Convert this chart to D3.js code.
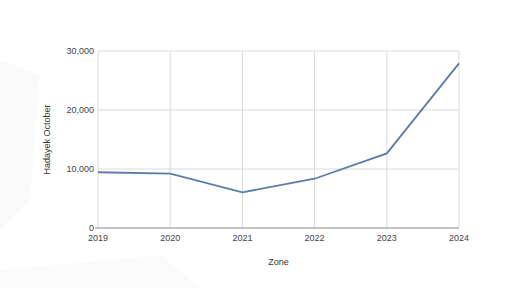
<!DOCTYPE html>
<html>
<head>
<meta charset="utf-8">
<script src="https://cdn.jsdelivr.net/npm/d3@7"></script>
<style>
  body { margin: 0; background: #fff; }
  svg { display: block; font-family: "Liberation Sans", Arial, sans-serif; }
</style>
</head>
<body>
<div id="chart"></div>
<script>
const years = [2019, 2020, 2021, 2022, 2023, 2024];
const values = [9450, 9200, 6050, 8350, 12650, 27900];
const yTicks = [0, 10000, 20000, 30000];

const W = 512, H = 288;
const margin = {top: 51, right: 53, bottom: 60, left: 98};
const width = W - margin.left - margin.right,
      height = H - margin.top - margin.bottom;

const svg = d3.select("#chart").append("svg")
    .attr("width", W).attr("height", H);

// faint background shapes
svg.append("path")
    .attr("d", "M0,60 L40,75 L30,200 L0,230 Z")
    .attr("fill", "#fafafa");
svg.append("path")
    .attr("d", "M0,270 L160,255 L200,288 L0,288 Z")
    .attr("fill", "#fbfbfb");

const g = svg.append("g").attr("transform", `translate(${margin.left},${margin.top})`);

const x = d3.scalePoint().domain(years).range([0, width]);
const y = d3.scaleLinear().domain([0, 30000]).range([height, 0]);

// gridlines
g.selectAll(".hgrid").data(yTicks.filter(d => d > 0)).enter().append("line")
    .attr("x1", 0).attr("x2", width)
    .attr("y1", d => y(d)).attr("y2", d => y(d))
    .attr("stroke", "#dadada").attr("stroke-width", 1);
g.selectAll(".vgrid").data(years).enter().append("line")
    .attr("x1", d => x(d)).attr("x2", d => x(d))
    .attr("y1", 0).attr("y2", height)
    .attr("stroke", "#dadada").attr("stroke-width", 1);

// baseline
g.append("line")
    .attr("x1", -3).attr("x2", width)
    .attr("y1", height).attr("y2", height)
    .attr("stroke", "#888").attr("stroke-width", 1);

// y labels
g.selectAll(".ylab").data(yTicks).enter().append("text")
    .attr("x", -4).attr("y", d => y(d))
    .attr("dy", "0.35em").attr("text-anchor", "end")
    .style("font-size", "9px").attr("fill", "#444")
    .text(d => d3.format(",")(d));

// x labels
g.selectAll(".xlab").data(years).enter().append("text")
    .attr("x", d => x(d)).attr("y", height + 13)
    .attr("text-anchor", "middle")
    .style("font-size", "9px").attr("fill", "#444")
    .text(d => d);

// line
const line = d3.line().x((d, i) => x(years[i])).y(d => y(d));
g.append("path").datum(values)
    .attr("d", line)
    .attr("fill", "none")
    .attr("stroke", "#5b7ca8")
    .attr("stroke-width", 1.8);

// axis titles
svg.append("text")
    .attr("x", margin.left + width / 2).attr("y", 265)
    .attr("text-anchor", "middle")
    .style("font-size", "9px").attr("fill", "#333")
    .text("Zone");
svg.append("text")
    .attr("transform", `translate(50,${margin.top + height / 2}) rotate(-90)`)
    .attr("text-anchor", "middle")
    .style("font-size", "9px").attr("fill", "#333")
    .text("Hadayek October");
</script>
</body>
</html>
